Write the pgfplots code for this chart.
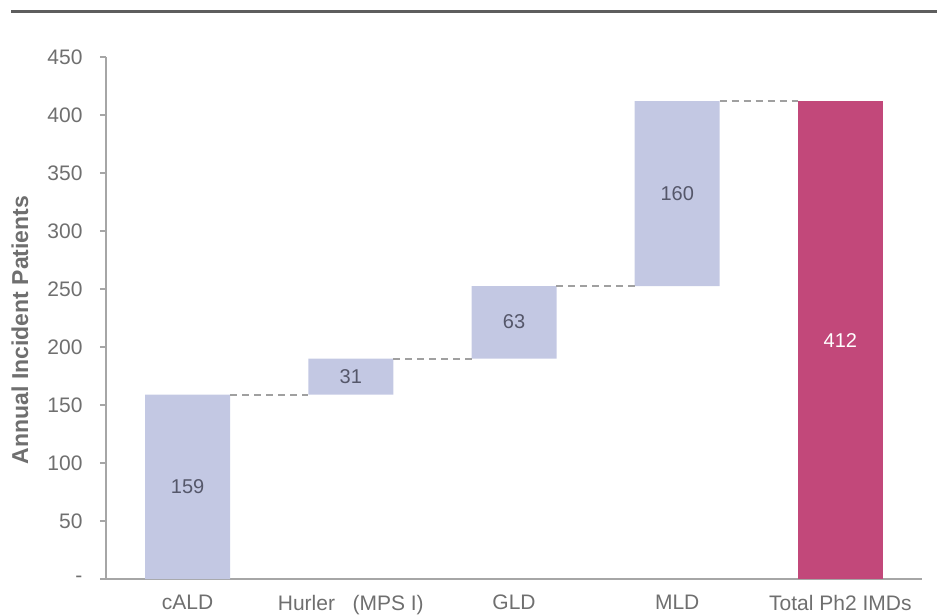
\documentclass[border=0pt]{standalone}
\usepackage{fontspec}
\setmainfont{Liberation Sans}
\usepackage{pgfplots}
\usepackage{pgfplotstable}
\pgfplotsset{compat=1.18}

\definecolor{barblue}{HTML}{C3C8E3}
\definecolor{barpink}{HTML}{C2487A}
\definecolor{axisgray}{HTML}{A6A6A6}
\definecolor{dashgray}{HTML}{A0A0A0}
\definecolor{txtgray}{HTML}{6F6F6F}
\definecolor{lblgray}{HTML}{55576A}
\definecolor{topgray}{HTML}{5E5E5E}

% waterfall steps: invisible base + visible step
\pgfplotstableread{
x base val
0 0     159
1 159   31
2 190   62.5
3 252.5 159.5
4 0     0
}\steps
\pgfplotstableread{
x tot
0 0
1 0
2 0
3 0
4 412
}\total
% value labels (placed at the middle of each bar)
\pgfplotstableread{
x mid lbl
0 79.5  159
1 174.5 31
2 221.5 63
3 332   160
}\labels

\begin{document}
\begin{tikzpicture}
\path[use as bounding box] (0,0) rectangle (937pt,614pt);
\draw[topgray, line width=3pt] (11pt,602pt) -- (937pt,602pt);

\begin{axis}[
    at={(106pt,35pt)}, anchor=south west,
    scale only axis, width=816pt, height=522pt,
    xmin=-0.5, xmax=4.5, ymin=0, ymax=450,
    ybar stacked, bar width=85pt,
    axis lines=left,
    axis line style={draw=axisgray, line width=1.5pt, -},
    xtick={0,...,4},
    xticklabels={cALD, Hurler\ \ \ (MPS I), GLD, MLD, Total Ph2 IMDs},
    x tick style={draw=none},
    ytick={0,50,...,450},
    yticklabels={-,50,100,150,200,250,300,350,400,450},
    y tick style={draw=axisgray, line width=1.5pt},
    tick align=outside, major tick length=6pt,
    tick label style={font=\fontsize{21}{21}\selectfont, text=txtgray},
    xticklabel style={yshift=-6.5pt},
    yticklabel style={xshift=-14pt},
    ylabel={Annual Incident Patients},
    every axis y label/.style={at={(axis description cs:0,0.477)},
        rotate=90, anchor=center, yshift=86pt,
        font=\bfseries\fontsize{23}{23}\selectfont, text=txtgray},
]
\addplot[draw=none, fill=none] table[x=x, y=base] {\steps};
\addplot[draw=none, fill=barblue] table[x=x, y=val] {\steps};
\addplot[draw=none, fill=barpink] table[x=x, y=tot] {\total};
\end{axis}

\begin{axis}[
    at={(106pt,35pt)}, anchor=south west,
    scale only axis, width=816pt, height=522pt,
    xmin=-0.5, xmax=4.5, ymin=0, ymax=450,
    hide axis,
]
% connectors between bars
\addplot[dashgray, line width=2pt, dash pattern=on 7pt off 5pt] coordinates {(0.26,159) (0.74,159)};
\addplot[dashgray, line width=2pt, dash pattern=on 7pt off 5pt] coordinates {(1.26,190) (1.74,190)};
\addplot[dashgray, line width=2pt, dash pattern=on 7pt off 5pt] coordinates {(2.26,252.5) (2.74,252.5)};
\addplot[dashgray, line width=2pt, dash pattern=on 7pt off 5pt] coordinates {(3.26,412) (3.74,412)};
% value labels
\addplot[draw=none, mark=none, nodes near coords, point meta=explicit symbolic,
    every node near coord/.append style={anchor=center, font=\fontsize{20}{20}\selectfont, text=lblgray}]
    table[x=x, y=mid, meta=lbl] {\labels};
\addplot[draw=none, mark=none, nodes near coords, point meta=explicit symbolic,
    every node near coord/.append style={anchor=center, font=\fontsize{20}{20}\selectfont, text=white}]
    coordinates {(4,206) [412]};
\end{axis}
\end{tikzpicture}
\end{document}
